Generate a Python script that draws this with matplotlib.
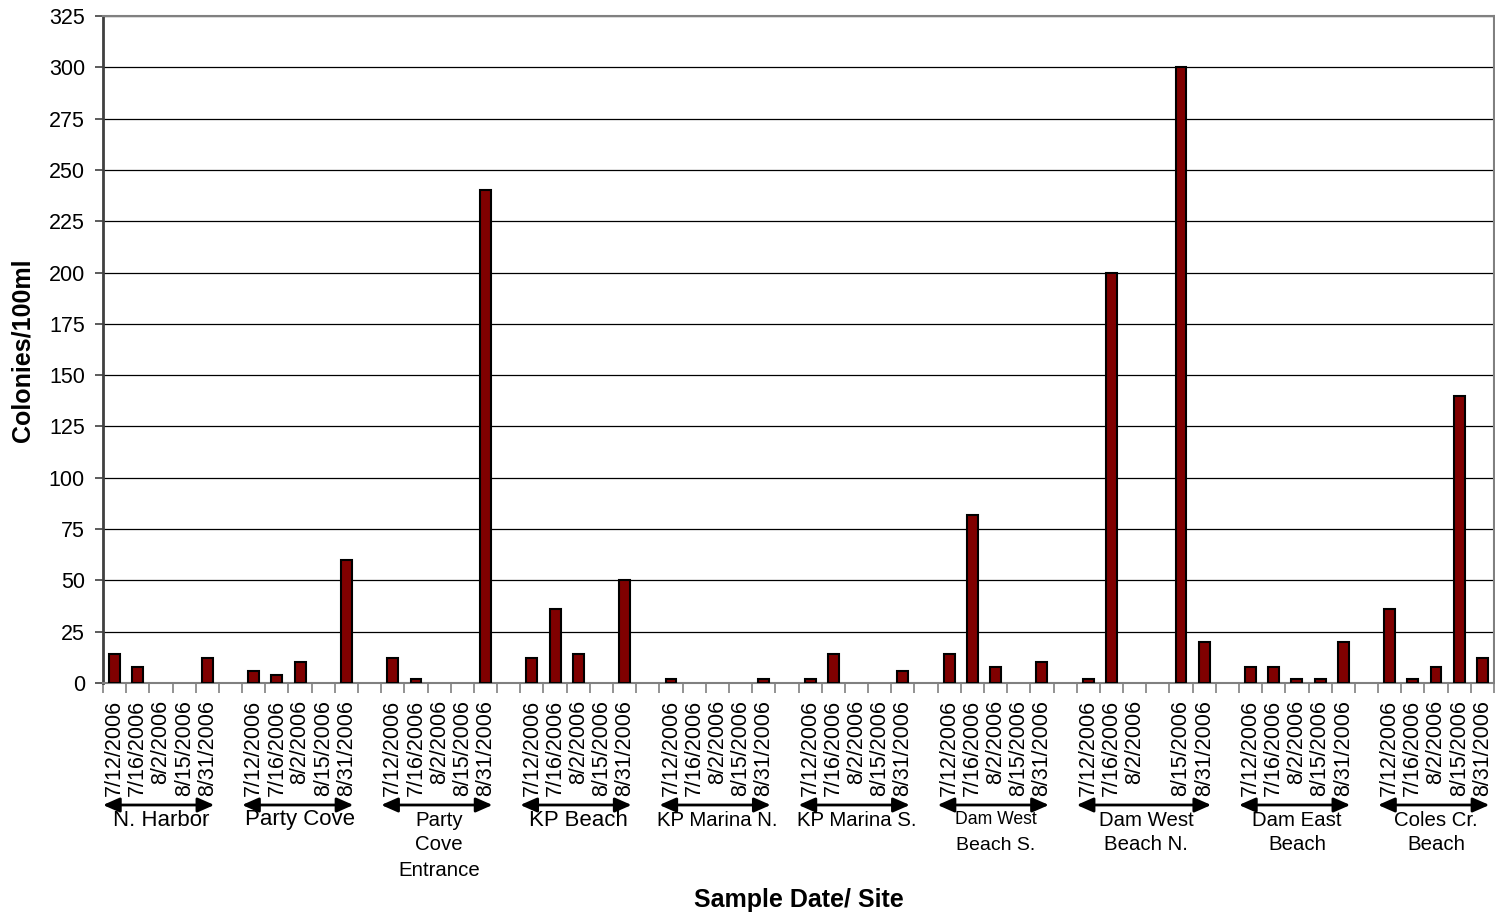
import numpy as np
import matplotlib.pyplot as plt
from matplotlib.transforms import blended_transform_factory

plt.rcParams['font.family'] = ['Liberation Sans', 'DejaVu Sans']

W, H = 1495, 918   # output size in pixels

# sample dates (Dam West Beach N. has one extra, unlabelled slot)
dates = ["7/12/2006", "7/16/2006", "8/2/2006", "8/15/2006", "8/31/2006"]
dates_dwbn = ["7/12/2006", "7/16/2006", "8/2/2006", "", "8/15/2006", "8/31/2006"]

sites = ["N. Harbor", "Party Cove", "Party\nCove\nEntrance", "KP Beach",
         "KP Marina N.", "KP Marina S.", "Dam West\nBeach S.",
         "Dam West\nBeach N.", "Dam East\nBeach", "Coles Cr.\nBeach"]

# colonies/100ml, None = no bar
n_harbor = [14, 8, None, None, 12]
party_cove = [6, 4, 10, None, 60]
party_cove_ent = [12, 2, None, None, 240]
kp_beach = [12, 36, 14, None, 50]
kp_marina_n = [2, None, None, None, 2]
kp_marina_s = [2, 14, None, None, 6]
dam_west_s = [14, 82, 8, None, 10]
dam_west_n = [2, 200, None, None, 300, 20]
dam_east = [8, 8, 2, 2, 20]
coles = [36, 2, 8, 140, 12]

site_values = [n_harbor, party_cove, party_cove_ent, kp_beach, kp_marina_n,
               kp_marina_s, dam_west_s, dam_west_n, dam_east, coles]
site_dates = [dates] * 7 + [dates_dwbn] + [dates] * 2

# lay the groups out with one empty slot between them
xs, heights, labels, spans = [], [], [], []
pos = 0
for vals, dl in zip(site_values, site_dates):
    start = pos
    for v, d in zip(vals, dl):
        xs.append(pos)
        heights.append(np.nan if v is None else v)
        labels.append(d)
        pos += 1
    spans.append((start, pos - 1))
    pos += 1
n_slots = pos - 1

fig = plt.figure(figsize=(W / 100, H / 100), dpi=100)
left, right, top, bottom = 103, 1494, 16, 683
ax = fig.add_axes([left / W, 1 - bottom / H, (right - left) / W, (bottom - top) / H])

ax.bar(xs, heights, width=0.47, color='#800000', edgecolor='black', linewidth=1.5, zorder=3)

ax.set_xlim(-0.5, n_slots - 0.5)
ax.set_ylim(0, 325)
ax.set_yticks(np.arange(0, 326, 25))
ax.yaxis.grid(True, color='black', linewidth=0.9, zorder=0)
ax.tick_params(axis='y', direction='out', length=6, width=1.2, color='#404040',
               labelsize=15.5, pad=7)

# date labels at slot centres, tick marks on slot boundaries
ax.set_xticks(xs)
ax.set_xticklabels(labels, rotation=90, va='top', ha='center', fontsize=15.5)
ax.tick_params(axis='x', which='major', length=0, pad=12)
ax.set_xticks(np.arange(-0.5, n_slots, 1), minor=True)
ax.tick_params(axis='x', which='minor', direction='out', length=7, width=1.2, color='#808080')

for side in ['top', 'right', 'bottom']:
    ax.spines[side].set_color('#808080')
    ax.spines[side].set_linewidth(1.5)
ax.spines['left'].set_color('#404040')
ax.spines['left'].set_linewidth(2)

# site arrows and names under the dates
trans = blended_transform_factory(ax.transData, fig.transFigure)
line_y = [820, 845, 871]
name_sizes = {0: [16], 1: [16], 3: [16], 6: [12.7, 14]}
for i, ((s, e), name) in enumerate(zip(spans, sites)):
    ay = 1 - 805 / H
    ax.annotate('', xy=(e + 0.3, ay), xytext=(s - 0.5, ay), xycoords=trans, textcoords=trans,
                arrowprops=dict(arrowstyle='<|-|>,head_length=0.5,head_width=0.22',
                                mutation_scale=20, lw=2, color='black',
                                shrinkA=0, shrinkB=0), annotation_clip=False)
    cx = (s + e) / 2
    for j, line in enumerate(name.split('\n')):
        sizes = name_sizes.get(i, [14.7] * 3)
        fs = sizes[j] if j < len(sizes) else sizes[-1]
        fig.text(cx, 1 - line_y[j] / H, line, transform=trans, ha='center', va='center',
                 fontsize=fs)

fig.text((left + right) / 2 / W, 1 - 900 / H, 'Sample Date/ Site', ha='center', va='center',
         fontsize=18, fontweight='bold')
fig.text(23 / W, 1 - 350 / H, 'Colonies/100ml', ha='center', va='center', rotation=90,
         fontsize=18, fontweight='bold')

fig.savefig('out.png', dpi=100)
